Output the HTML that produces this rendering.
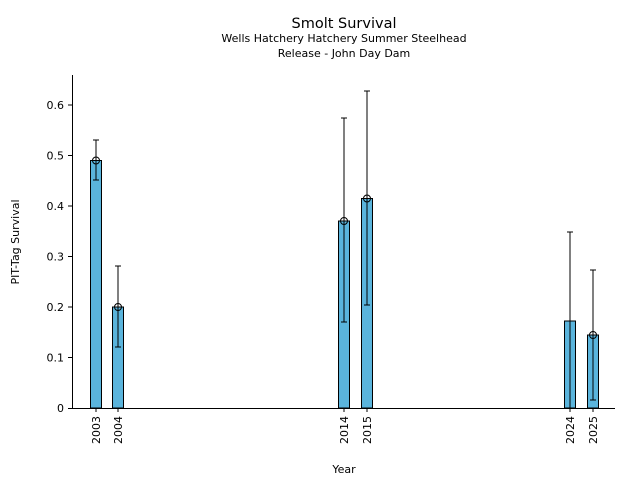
<!DOCTYPE html>
<html><head><meta charset="utf-8"><style>body{margin:0;background:#fff}svg{display:block}text{font-family:"DejaVu Sans","Liberation Sans",sans-serif;fill:#000}</style></head><body>
<svg width="640" height="480" viewBox="0 0 640 480" xmlns="http://www.w3.org/2000/svg">
<text x="344" y="28" font-size="14.5" text-anchor="middle">Smolt Survival</text>
<text x="344" y="42" font-size="11" text-anchor="middle">Wells Hatchery Hatchery Summer Steelhead</text>
<text x="344" y="57" font-size="11" text-anchor="middle">Release - John Day Dam</text>
<g stroke="#000" stroke-width="1" fill="#5ab4dc">
<rect x="90.5" y="160.5" width="11" height="247.5"/>
<rect x="112.5" y="307" width="11" height="101"/>
<rect x="338.5" y="221" width="11" height="187"/>
<rect x="361.5" y="198.5" width="11" height="209.5"/>
<rect x="564.5" y="321" width="11" height="87"/>
<rect x="587.5" y="335" width="11" height="73"/>
</g>
<g stroke="#000" stroke-width="1" fill="none">
<path d="M96 180V140M93 180h6M93 140h6"/>
<path d="M118 347V266M115 347h6M115 266h6"/>
<path d="M344 322V118M341 322h6M341 118h6"/>
<path d="M367 305V91M364 305h6M364 91h6"/>
<path d="M570 408V232M567 232h6"/>
<path d="M593 400V270M590 400h6M590 270h6"/>
<circle cx="96" cy="160.5" r="3.5"/><circle cx="118" cy="307" r="3.5"/><circle cx="344" cy="221" r="3.5"/><circle cx="367" cy="198.5" r="3.5"/><circle cx="593" cy="335" r="3.5"/>
<path d="M72.5 75V408.5H615"/>
<path d="M68 408.5h4M68 357.5h4M68 307h4M68 256.5h4M68 206h4M68 155.5h4M68 105h4"/>
<path d="M96 408v4M118 408v4M344 408v4M367 408v4M570 408v4M593 408v4"/>
</g>
<g font-size="11" text-anchor="end">
<text x="64" y="412">0</text><text x="64" y="361.5">0.1</text><text x="64" y="311">0.2</text><text x="64" y="260.5">0.3</text><text x="64" y="210">0.4</text><text x="64" y="159.5">0.5</text><text x="64" y="109">0.6</text>
</g>
<g font-size="11" text-anchor="end">
<text transform="translate(100,416) rotate(-90)">2003</text>
<text transform="translate(122,416) rotate(-90)">2004</text>
<text transform="translate(348,416) rotate(-90)">2014</text>
<text transform="translate(371,416) rotate(-90)">2015</text>
<text transform="translate(574,416) rotate(-90)">2024</text>
<text transform="translate(597,416) rotate(-90)">2025</text>
</g>
<text x="344" y="473" font-size="11" text-anchor="middle">Year</text>
<text transform="translate(19,242) rotate(-90)" font-size="11" text-anchor="middle">PIT-Tag Survival</text>
</svg>
</body></html>
